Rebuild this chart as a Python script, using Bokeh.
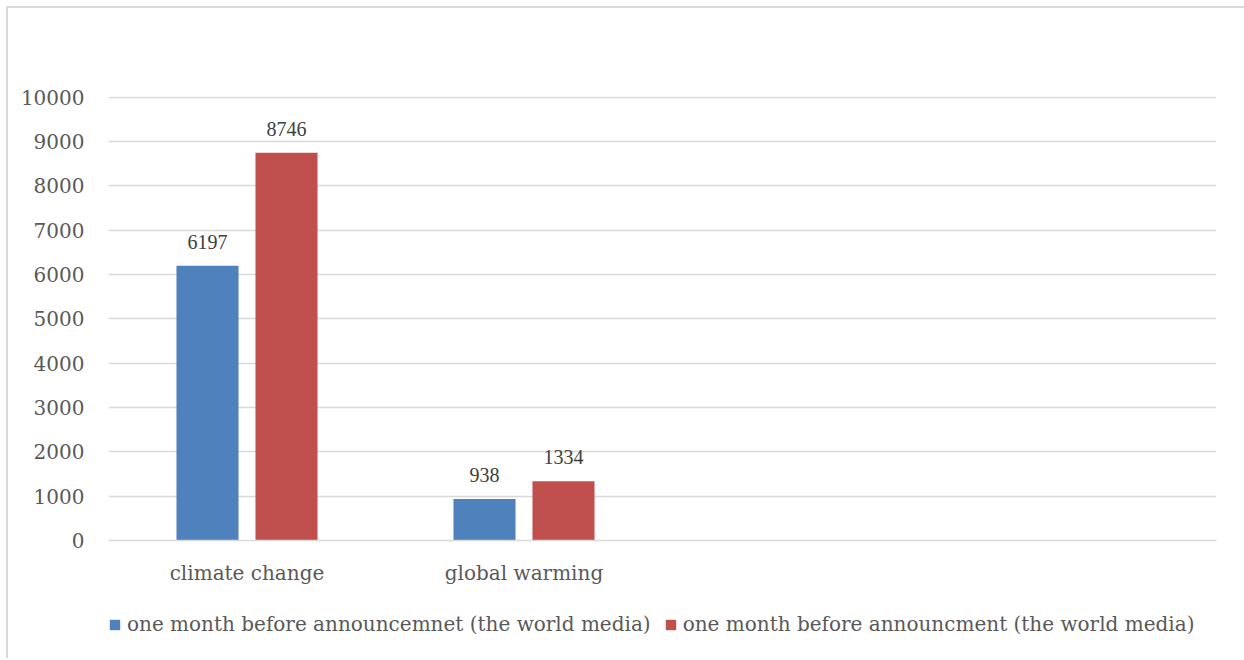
from bokeh.plotting import figure
from bokeh.layouts import column
from bokeh.models import (ColumnDataSource, FactorRange, LabelSet, Legend, LegendItem,
                          SingleIntervalTicker, Range1d)
from bokeh.transform import dodge
from bokeh.embed import file_html
from bokeh.resources import INLINE

categories = ["climate change", "global warming"]
series_names = ["one month before announcemnet (the world media)",
                "one month before announcment (the world media)"]
before_values = [6197, 938]
after_values = [8746, 1334]
empty_slots = [" ", "  "]
colors = ["#4F81BD", "#C0504D"]

FONT = "DejaVu Serif"
GRID = "#d9d9d9"

factors = categories + empty_slots
p = figure(x_range=FactorRange(*factors, range_padding=0), y_range=(0, 10012),
           width=1236, height=592, output_backend="svg", toolbar_location=None,
           min_border_left=100, min_border_right=28, min_border_top=88, min_border_bottom=60)
p.outline_line_color = None
p.background_fill_color = "white"
p.border_fill_color = "white"

src = ColumnDataSource(dict(cat=categories, a=before_values, b=after_values,
                            la=[str(v) for v in before_values], lb=[str(v) for v in after_values]))

off = 0.1426
w = 0.224
r1 = p.vbar(x=dodge("cat", -off, range=p.x_range), top="a", width=w, source=src,
            fill_color=colors[0], line_color=None)
r2 = p.vbar(x=dodge("cat", off, range=p.x_range), top="b", width=w, source=src,
            fill_color=colors[1], line_color=None)

for col, lab, o in (("a", "la", -off), ("b", "lb", off)):
    ls = LabelSet(x=dodge("cat", o, range=p.x_range), y=col, text=lab, source=src,
                  text_align="center", text_baseline="alphabetic", y_offset=17,
                  text_font=FONT, text_font_size="20px", text_color="#404040")
    p.add_layout(ls)

p.yaxis.ticker = SingleIntervalTicker(interval=1000)
p.yaxis.axis_line_color = None
p.yaxis.major_tick_line_color = None
p.yaxis.minor_tick_line_color = None
p.yaxis.major_tick_out = 0
p.yaxis.major_label_standoff = 20
p.yaxis.major_label_text_font = FONT
p.yaxis.major_label_text_font_size = "20px"
p.yaxis.major_label_text_color = "#595959"

p.xaxis.axis_line_color = GRID
p.xaxis.axis_line_width = 1.5
p.xaxis.major_tick_line_color = None
p.xaxis.minor_tick_line_color = None
p.xaxis.major_tick_out = 0
p.xaxis.major_label_standoff = 20
p.xaxis.major_label_text_font = FONT
p.xaxis.major_label_text_font_size = "20px"
p.xaxis.major_label_text_color = "#595959"

p.xgrid.grid_line_color = None
p.ygrid.grid_line_color = GRID
p.ygrid.grid_line_width = 1.5

# legend strip below the chart (placeholder glyphs sit outside its visible range)
q = figure(width=1236, height=58, output_backend="svg", toolbar_location=None,
           x_axis_type=None, y_axis_type=None, x_range=Range1d(0, 1), y_range=Range1d(0, 1),
           min_border=0, min_border_left=0, min_border_right=0,
           min_border_top=0, min_border_bottom=0)
q.outline_line_color = None
q.grid.visible = False
g1 = q.vbar(x=-5, top=-5, width=0.1, fill_color=colors[0], line_color=None)
g2 = q.vbar(x=-5, top=-5, width=0.1, fill_color=colors[1], line_color=None)
legend = Legend(items=[LegendItem(label=series_names[0], renderers=[g1]),
                       LegendItem(label=series_names[1], renderers=[g2])],
                orientation="horizontal", location=(0, 22),
                glyph_width=13, glyph_height=13, label_standoff=6, spacing=13,
                padding=0, margin=0, border_line_color=None, background_fill_alpha=0,
                label_text_font=FONT, label_text_font_size="20px", label_text_color="#595959")
q.add_layout(legend, "center")

layout = column(p, q, spacing=0, margin=(6, 0, 0, 6),
                styles={"border-left": "2px solid #d9d9d9", "border-top": "2px solid #d9d9d9"})

open("out.html", "w").write(file_html(layout, INLINE))
